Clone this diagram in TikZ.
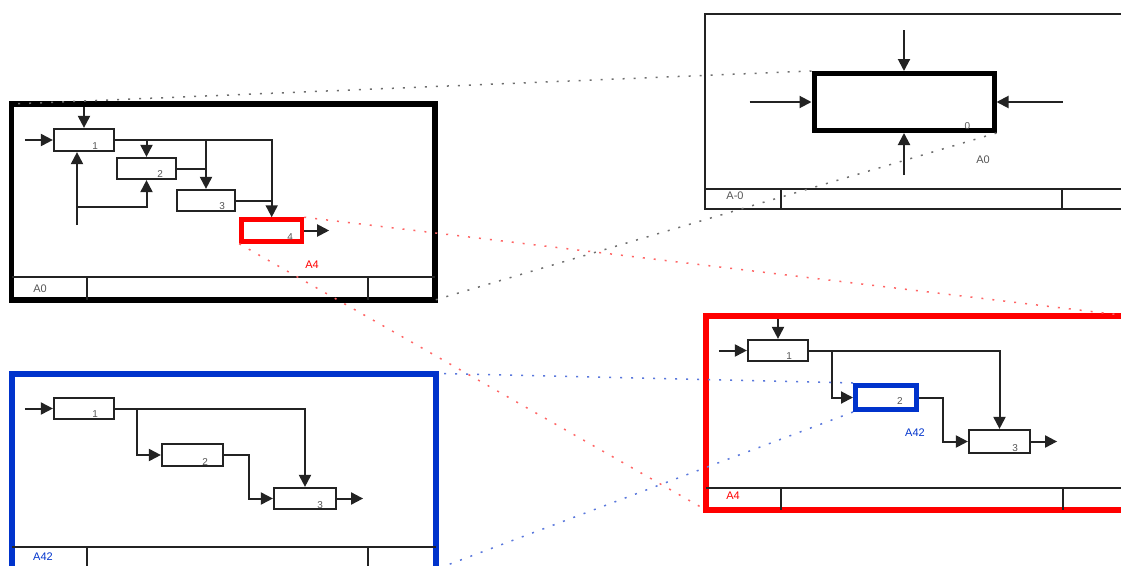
\documentclass[tikz,border=0pt]{standalone}
\usepackage{fontspec}
\setsansfont{Liberation Sans}
\usetikzlibrary{arrows.meta,calc}
\definecolor{idefred}{RGB}{255,0,0}
\definecolor{idefblue}{RGB}{0,51,204}
\definecolor{linegray}{RGB}{35,35,35}
\definecolor{numgray}{RGB}{85,85,85}
\definecolor{dotred}{RGB}{255,100,100}
\definecolor{dotblue}{RGB}{90,120,220}
\definecolor{dotgray}{RGB}{110,110,110}
\tikzset{
  panel/.style={draw, outer sep=0pt, minimum width=#1, minimum height=196pt, inner sep=0pt},
  tline/.style={draw=linegray, line width=2pt},
  fbox/.style={draw=linegray, line width=2.2pt, inner sep=0pt},
  conn/.style={draw=linegray, line width=2pt},
  arr/.style={conn, -{Triangle[length=12pt,width=12pt]}},
  num/.style={font=\sffamily\fontsize{10}{10}\selectfont, text=numgray, inner sep=0pt},
  plabel/.style={font=\sffamily\fontsize{11}{11}\selectfont, text=numgray, inner sep=0pt},
  zoomline/.style={line width=1.5pt, dash pattern=on 2pt off 9pt},
}
\begin{document}
\begin{tikzpicture}[x=1pt,y=-1pt]
\useasboundingbox (0,0) rectangle (1121,565);
\clip (0,0) rectangle (1121,565);

% ---------- panels ----------
\node[panel=423.5pt, line width=5.5pt, draw=black] (p0) at (223.25,202) {};
\node[panel=424pt, line width=6pt, draw=idefblue] (p42) at (223.5,471.5) {};
\node[panel=424pt, minimum height=195pt, line width=2.2pt, draw=linegray] (pm) at (917,111.5) {};
\node[panel=423pt, minimum height=194pt, line width=5.5pt, draw=idefred] (p4) at (917.5,413) {};

% title bars
\draw[tline] ($(p0.south west)+(0,-23)$) -- ($(p0.south east)+(0,-23)$);
\draw[tline] ($(p0.south west)+(75.5,-23)$) -- ($(p0.south west)+(75.5,0)$);
\draw[tline] ($(p0.south west)+(356.5,-23)$) -- ($(p0.south west)+(356.5,0)$);
\node[plabel] (t0) at (40,289) {A0};

\draw[tline] ($(p42.south west)+(0,-22.5)$) -- ($(p42.south east)+(0,-22.5)$);
\draw[tline] ($(p42.south west)+(75.5,-22.5)$) -- ($(p42.south west)+(75.5,0)$);
\draw[tline] ($(p42.south west)+(356.5,-22.5)$) -- ($(p42.south west)+(356.5,0)$);
\node[plabel, text=idefblue] (t42) at (43,557) {A42};

\draw[tline] ($(pm.south west)+(0,-20)$) -- ($(pm.south east)+(0,-20)$);
\draw[tline] ($(pm.south west)+(76,-20)$) -- ($(pm.south west)+(76,0)$);
\draw[tline] ($(pm.south west)+(357,-20)$) -- ($(pm.south west)+(357,0)$);
\node[plabel] (tm) at (735,196) {A-0};

\draw[tline] ($(p4.south west)+(0,-22)$) -- ($(p4.south east)+(0,-22)$);
\draw[tline] ($(p4.south west)+(75,-22)$) -- ($(p4.south west)+(75,0)$);
\draw[tline] ($(p4.south west)+(357,-22)$) -- ($(p4.south west)+(357,0)$);
\node[plabel, text=idefred] (t4) at (733,496) {A4};

% ---------- A0 diagram ----------
\node[fbox, minimum width=60pt, minimum height=22pt] (a0b1) at (84,140) {};
\node[fbox, minimum width=59pt, minimum height=21pt] (a0b2) at (146.5,168.5) {};
\node[fbox, minimum width=58pt, minimum height=21pt] (a0b3) at (206,200.5) {};
\node[fbox, draw=idefred, line width=4.5pt, minimum width=60.5pt, minimum height=22pt] (a0b4) at (271.7,230.5) {};
\node[num] (a0n1) at ([xshift=-20pt,yshift=6pt]a0b1.south east) {1};
\node[num] (a0n2) at ([xshift=-17pt,yshift=6pt]a0b2.south east) {2};
\node[num] (a0n3) at ([xshift=-14pt,yshift=6pt]a0b3.south east) {3};
\node[num] (a0n4) at ([xshift=-14pt,yshift=7pt]a0b4.south east) {4};
\node[plabel, text=idefred] (a0l4) at (312,265) {A4};

\draw[arr] ([yshift=-3pt]a0b1.north |- p0.north) -- (a0b1.north);
\draw[arr] ([xshift=-28pt]a0b1.west) -- (a0b1.west);
\draw[arr] (a0b1.east) -| (a0b4.north);
\draw[arr] (a0b1.east -| a0b2.north) -- (a0b2.north);
\draw[arr] (a0b1.east -| a0b3.north) -- (a0b3.north);
\draw[conn] (a0b2.east) -- (a0b2.east -| a0b3.north);
\draw[conn] (a0b3.east) -- (a0b3.east -| a0b4.north);
\draw[arr] (a0b4.east) -- ++(25,0);
\coordinate (a0m) at (77,225);
\coordinate (a0mb) at (77,207);
\draw[arr] (a0m) -- (a0m |- a0b1.south);
\draw[arr] (a0mb) -| (a0b2.south);

% ---------- A42 diagram ----------
\node[fbox, minimum width=60pt, minimum height=21pt] (a42b1) at (84,408.5) {};
\node[fbox, minimum width=61pt, minimum height=22pt] (a42b2) at (192.5,455) {};
\node[fbox, minimum width=62pt, minimum height=21pt] (a42b3) at (305,498.5) {};
\node[num] (a42n1) at ([xshift=-20pt,yshift=6pt]a42b1.south east) {1};
\node[num] (a42n2) at ([xshift=-19pt,yshift=5pt]a42b2.south east) {2};
\node[num] (a42n3) at ([xshift=-17pt,yshift=5pt]a42b3.south east) {3};

\draw[arr] ([xshift=-28pt]a42b1.west) -- (a42b1.west);
\draw[arr] (a42b1.east) -| (a42b3.north);
\draw[arr] ([xshift=22pt]a42b1.east) |- (a42b2.west);
\draw[arr] (a42b2.east) -- ++(25,0) |- (a42b3.west);
\draw[arr] (a42b3.east) -- ++(26,0);

% ---------- A-0 diagram ----------
\node[fbox, draw=black, line width=5pt, minimum width=180pt, minimum height=57pt] (amb) at (904,102) {};
\node[num] (amn) at ([xshift=-29pt,yshift=7pt]amb.south east) {0};
\node[plabel] (aml) at (983,160) {A0};
\draw[arr] ([yshift=41pt]amb.north) -- (amb.north);
\draw[arr] ([yshift=-42pt]amb.south) -- (amb.south);
\draw[arr] ([xshift=-62pt]amb.west) -- (amb.west);
\draw[arr] ([xshift=66pt]amb.east) -- (amb.east);

% ---------- A4 diagram ----------
\node[fbox, minimum width=60pt, minimum height=21pt] (a4b1) at (778,350.5) {};
\node[fbox, draw=idefblue, line width=5pt, minimum width=61pt, minimum height=24pt] (a4b2) at (886,397.5) {};
\node[fbox, minimum width=61pt, minimum height=23pt] (a4b3) at (999.5,441.5) {};
\node[num] (a4n1) at ([xshift=-20pt,yshift=6pt]a4b1.south east) {1};
\node[num] (a4n2) at ([xshift=-19pt,yshift=11pt]a4b2.south east) {2};
\node[num] (a4n3) at ([xshift=-16pt,yshift=6pt]a4b3.south east) {3};
\node[plabel, text=idefblue] (a4l2) at (915,433) {A42};

\draw[arr] ([yshift=-3pt]a4b1.north |- p4.north) -- (a4b1.north);
\draw[arr] ([xshift=-28pt]a4b1.west) -- (a4b1.west);
\draw[arr] (a4b1.east) -| (a4b3.north);
\draw[arr] ([xshift=23pt]a4b1.east) |- (a4b2.west);
\draw[arr] (a4b2.east) -- ++(24,0) |- (a4b3.west);
\draw[arr] (a4b3.east) -- ++(26,0);

% ---------- decomposition lines ----------
\draw[zoomline, draw=dotgray] (amb.north west) -- (p0.north west);
\draw[zoomline, draw=dotgray] (amb.south east) -- (p0.south east);
\draw[zoomline, draw=dotred] (a0b4.north east) -- (p4.north east);
\draw[zoomline, draw=dotred] (a0b4.south west) -- (p4.south west);
\draw[zoomline, draw=dotblue] (a4b2.north west) -- (p42.north east);
\draw[zoomline, draw=dotblue] (a4b2.south west) -- (p42.south east);
\end{tikzpicture}
\end{document}
